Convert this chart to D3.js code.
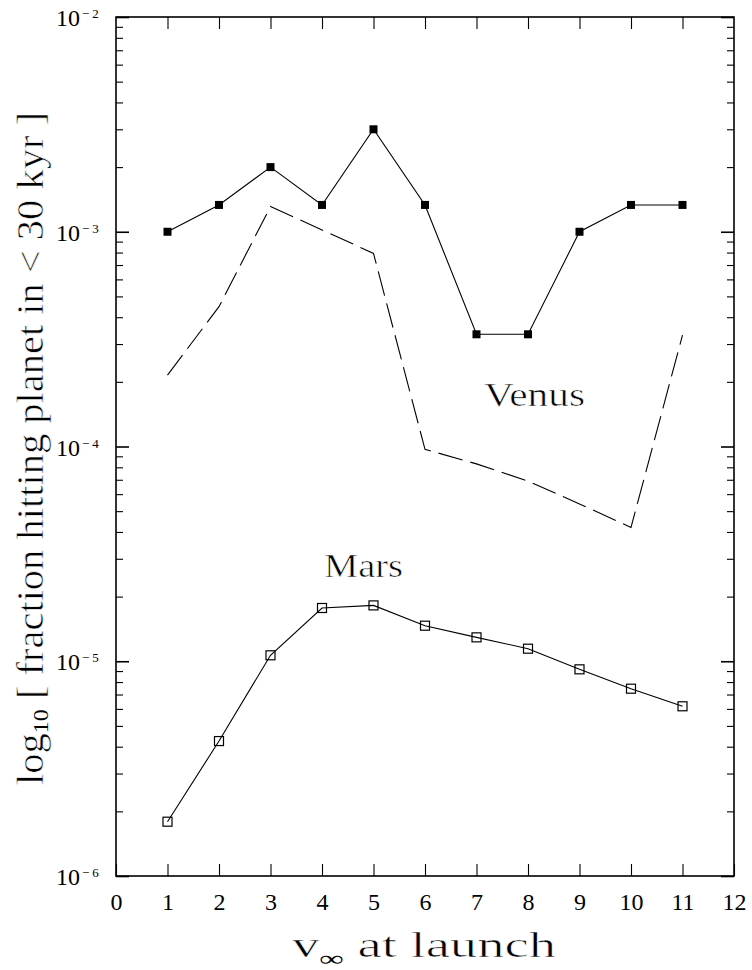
<!DOCTYPE html>
<html>
<head>
<meta charset="utf-8">
<script src="https://cdn.jsdelivr.net/npm/d3@7/dist/d3.min.js"></script>
<style>
  html, body { margin: 0; padding: 0; background: #fff; }
  svg { display: block; }
  text { font-family: "Liberation Serif", "Times New Roman", serif; fill: #000; }
  /* light strokes: trim glyph stems of the large titles a little */
  .lite { stroke: #fff; stroke-width: 0.6px; }
  .lite tspan.sub { stroke: none; }
</style>
</head>
<body>
<svg id="chart" width="752" height="970"></svg>
<script>
// launch speed v_inf (km/s)
const vInf = [1, 2, 3, 4, 5, 6, 7, 8, 9, 10, 11];
// fraction hitting Venus within 30 kyr (filled squares)
const venusHits = [1.0e-3, 1.333e-3, 2.0e-3, 1.333e-3, 3.0e-3, 1.333e-3, 3.33e-4, 3.33e-4, 1.0e-3, 1.333e-3, 1.333e-3];
// second Venus estimate (dashed curve)
const venusDashed = [2.15e-4, 4.48e-4, 1.31e-3, 1.02e-3, 7.93e-4, 9.7e-5, 8.3e-5, 6.9e-5, 5.4e-5, 4.2e-5, 3.3e-4];
// fraction hitting Mars within 30 kyr (open squares)
const marsHits = [1.79e-6, 4.25e-6, 1.066e-5, 1.77e-5, 1.82e-5, 1.464e-5, 1.292e-5, 1.144e-5, 9.17e-6, 7.45e-6, 6.17e-6];

const xTicks = [0, 1, 2, 3, 4, 5, 6, 7, 8, 9, 10, 11, 12];
const decadeExponents = [-6, -5, -4, -3, -2];

const plotLeft = 116, plotRight = 734, plotTop = 17, plotBottom = 876;
const svg = d3.select("#chart");

const x = d3.scaleLinear().domain([0, 12]).range([plotLeft, plotRight]);
const y = d3.scaleLog().domain([1e-6, 1e-2]).range([plotBottom, plotTop]);

const majors = decadeExponents.map(e => Math.pow(10, e));
const minors = [];
decadeExponents.slice(0, -1).forEach(e => {
  for (let m = 2; m <= 9; m++) minors.push(m * Math.pow(10, e));
});

function clean(g) {
  g.select(".domain").remove();
  g.selectAll(".tick line").attr("stroke", "#000");
}

// bottom axis with labels
const gx = svg.append("g")
  .attr("transform", `translate(0,${plotBottom})`)
  .call(d3.axisBottom(x).tickValues(xTicks).tickSizeInner(-12).tickSizeOuter(0)
    .tickPadding(17).tickFormat(d3.format("d")));
clean(gx);
gx.selectAll(".tick line").attr("stroke-width", 1.1);
gx.selectAll(".tick text").attr("font-size", 24).attr("font-family", "Liberation Serif, serif")
  .attr("fill", "#000");

// top axis, ticks only
const gxt = svg.append("g")
  .attr("transform", `translate(0,${plotTop})`)
  .call(d3.axisTop(x).tickValues(xTicks.slice(1, -1)).tickSizeInner(-12).tickSizeOuter(0).tickFormat(""));
clean(gxt);
gxt.selectAll(".tick line").attr("stroke-width", 1.1);

// left and right log axes: minor then major ticks
[[d3.axisLeft, plotLeft], [d3.axisRight, plotRight]].forEach(([axisFn, xpos]) => {
  const gMin = svg.append("g").attr("transform", `translate(${xpos},0)`)
    .call(axisFn(y).tickValues(minors).tickSizeInner(-7).tickSizeOuter(0).tickFormat(""));
  clean(gMin);
  gMin.selectAll(".tick line").attr("stroke-width", 1.1);
  const gMaj = svg.append("g").attr("transform", `translate(${xpos},0)`)
    .call(axisFn(y).tickValues(majors).tickSizeInner(-13).tickSizeOuter(0).tickFormat(""));
  clean(gMaj);
  gMaj.selectAll(".tick line").attr("stroke-width", 1.6);
});

// decade labels 10^n
decadeExponents.forEach(e => {
  const yy = y(Math.pow(10, e));
  svg.append("text").attr("x", 80).attr("y", yy + 9)
    .attr("text-anchor", "end").attr("font-size", 24).text("10");
  svg.append("text").attr("x", 82).attr("y", yy + 1)
    .attr("font-size", 13).attr("letter-spacing", 3).text("\u2212" + Math.abs(e));
});

// frame
svg.append("rect")
  .attr("x", plotLeft).attr("y", plotTop)
  .attr("width", plotRight - plotLeft).attr("height", plotBottom - plotTop)
  .attr("fill", "none").attr("stroke", "#000").attr("stroke-width", 1.6);

const line = d3.line().x((d, i) => x(vInf[i])).y(d => y(d));

// dashed Venus curve
svg.append("path").datum(venusDashed)
  .attr("d", line).attr("fill", "none").attr("stroke", "#000")
  .attr("stroke-width", 1.1).attr("stroke-dasharray", "25,8");

// Venus, filled squares
svg.append("path").datum(venusHits)
  .attr("d", line).attr("fill", "none").attr("stroke", "#000").attr("stroke-width", 1.1);
svg.selectAll("rect.venus").data(venusHits).enter().append("rect")
  .attr("class", "venus")
  .attr("x", (d, i) => x(vInf[i]) - 4).attr("y", d => y(d) - 4)
  .attr("width", 8).attr("height", 8).attr("fill", "#000");

// Mars, open squares
svg.append("path").datum(marsHits)
  .attr("d", line).attr("fill", "none").attr("stroke", "#000").attr("stroke-width", 1.1);
svg.selectAll("rect.mars").data(marsHits).enter().append("rect")
  .attr("class", "mars")
  .attr("x", (d, i) => x(vInf[i]) - 4.5).attr("y", d => y(d) - 4.5)
  .attr("width", 9).attr("height", 9).attr("fill", "none")
  .attr("stroke", "#000").attr("stroke-width", 1.2);

// curve labels
svg.append("text").attr("class", "lite").attr("x", 484).attr("y", 406).attr("font-size", 34)
  .attr("textLength", 101).attr("lengthAdjust", "spacingAndGlyphs").text("Venus");
svg.append("text").attr("class", "lite").attr("x", 324).attr("y", 577).attr("font-size", 34)
  .attr("textLength", 79).attr("lengthAdjust", "spacingAndGlyphs").text("Mars");

// x-axis title
const xt = svg.append("text").attr("class", "lite").attr("x", 292).attr("y", 957).attr("font-size", 35)
  .attr("textLength", 264).attr("lengthAdjust", "spacingAndGlyphs");
xt.append("tspan").text("v");
xt.append("tspan").attr("class", "sub").attr("font-size", 22).attr("dy", 9).text("\u221E");
xt.append("tspan").attr("dy", -9).text(" at launch");

// y-axis title
const yt = svg.append("text").attr("class", "lite")
  .attr("transform", "translate(43,785) rotate(-90)")
  .attr("font-size", 37)
  .attr("textLength", 673).attr("lengthAdjust", "spacingAndGlyphs");
yt.append("tspan").text("log");
yt.append("tspan").attr("class", "sub").attr("font-size", 22).attr("dy", 5).text("10");
yt.append("tspan").attr("dy", -5).text(" [ fraction hitting planet in < 30 kyr ]");
</script>
</body>
</html>
